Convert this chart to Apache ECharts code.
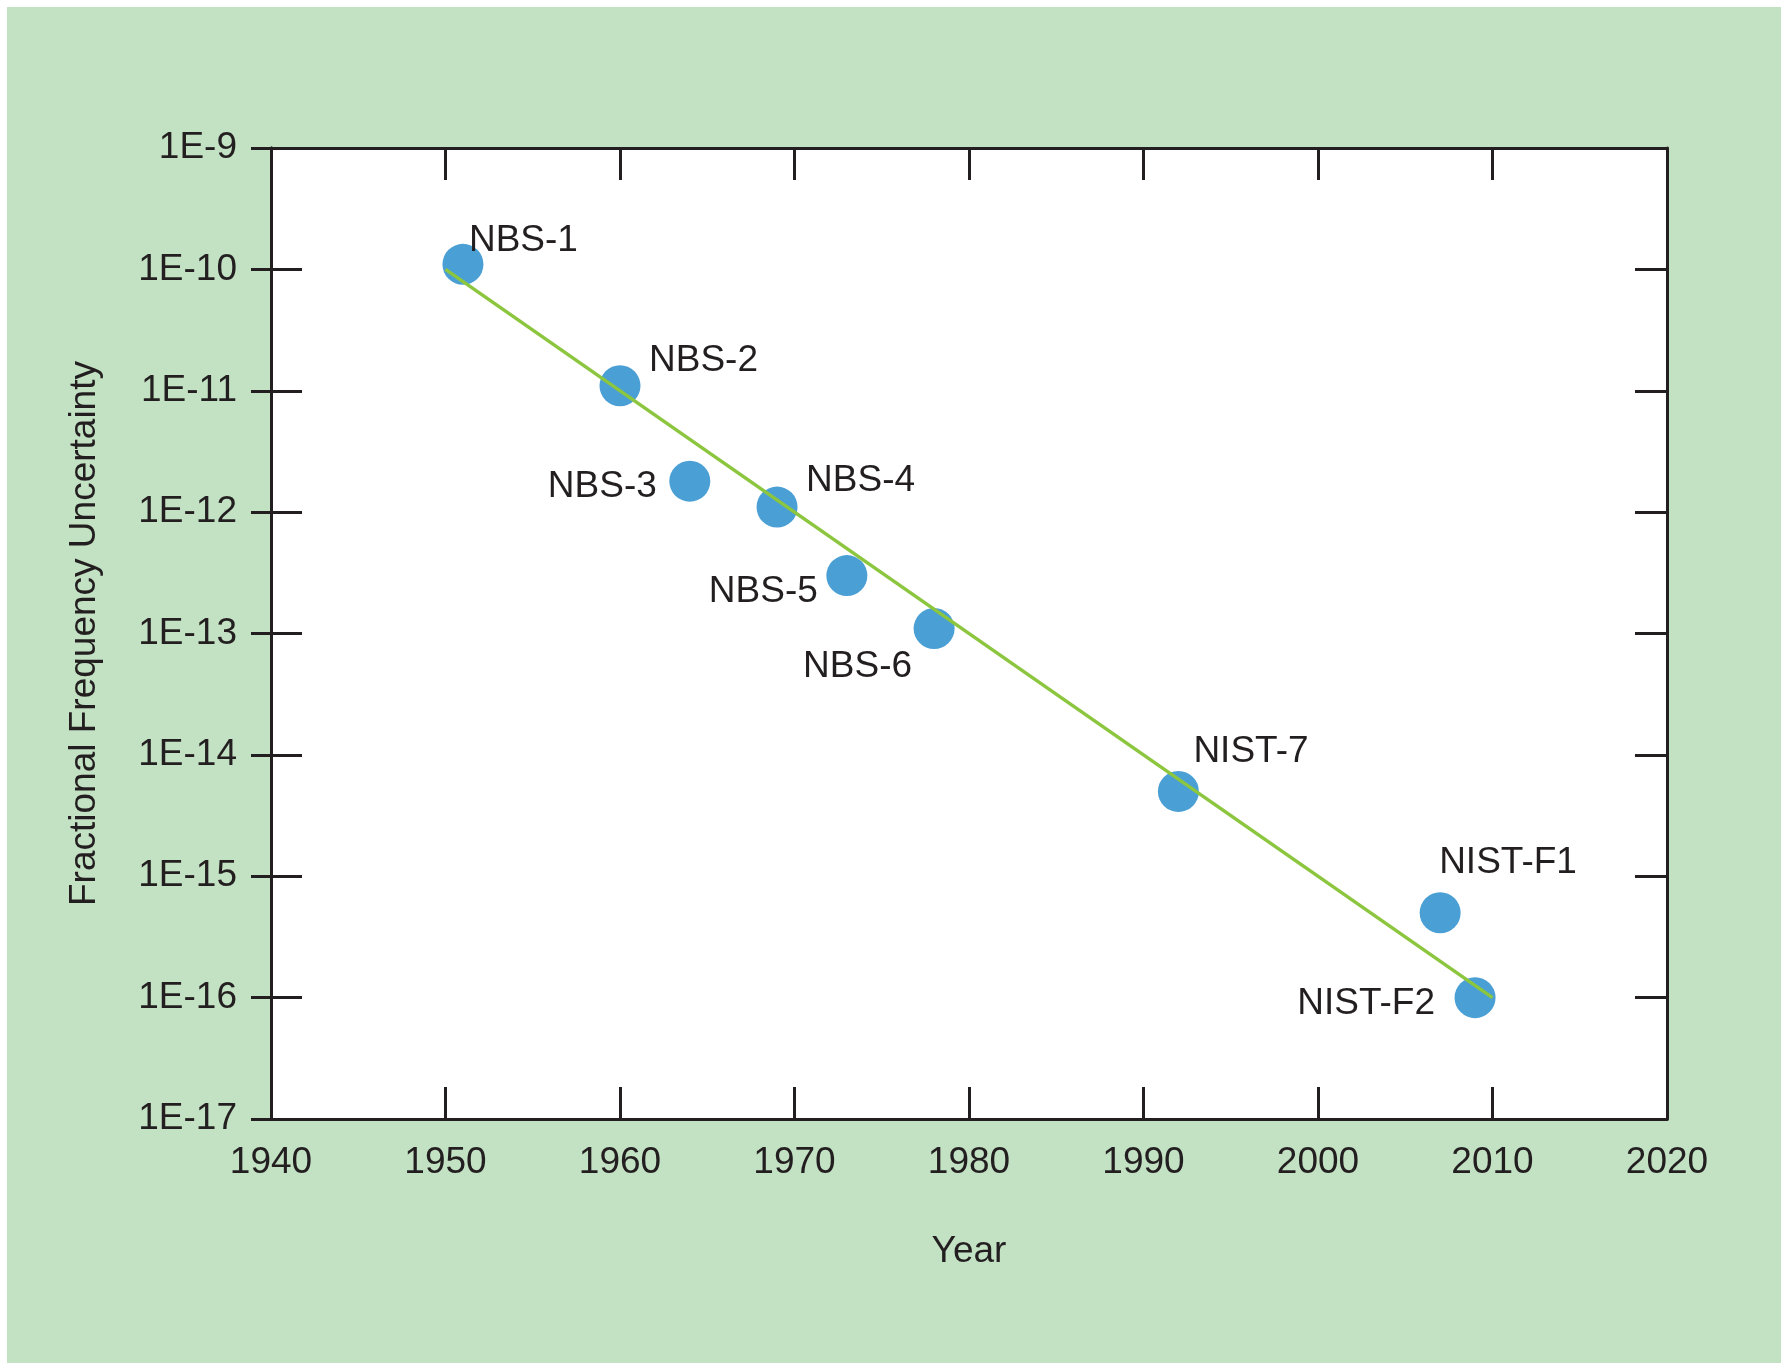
<!DOCTYPE html>
<html>
<head>
    <meta charset="utf-8" />
    <title>Fractional Frequency Uncertainty</title>
    <script src="https://cdn.jsdelivr.net/npm/echarts@6/dist/echarts.min.js"></script>
    <style>
        html, body { margin: 0; padding: 0; background: #fff; }
        #main { width: 1790px; height: 1370px; }
    </style>
</head>
<body>
    <div id="main"></div>
    <script type="text/javascript">
        // clock data
        var clockNames = ['NBS-1', 'NBS-2', 'NBS-3', 'NBS-4', 'NBS-5', 'NBS-6', 'NIST-7', 'NIST-F1', 'NIST-F2'];
        var clockYears = [1951, 1960, 1964, 1969, 1973, 1978, 1992, 2007, 2009];
        var clockUncert = [1.1e-10, 1.1e-11, 1.8e-12, 1.1e-12, 3.0e-13, 1.1e-13, 5.0e-15, 5.0e-16, 1.0e-16];
        // trend line end points
        var trendYears = [1950, 2010];
        var trendUncert = [1e-10, 1e-16];

        // label placement per clock [dx, dy, align]
        var labelPlace = {
            'NBS-1': [6, -24, 'left'],
            'NBS-2': [29, -25, 'left'],
            'NBS-3': [-33, 6, 'right'],
            'NBS-4': [29, -26, 'left'],
            'NBS-5': [-29, 16, 'right'],
            'NBS-6': [-22, 38, 'right'],
            'NIST-7': [15, -40, 'left'],
            'NIST-F1': [-1, -50, 'left'],
            'NIST-F2': [-40, 6, 'right']
        };

        var ink = '#231f20';
        var font = 'Liberation Sans, Arial, Helvetica, sans-serif';
        var fs = 37;
        var symSize = 41;

        var points = [];
        for (var i = 0; i < clockNames.length; i++) {
            var p = labelPlace[clockNames[i]];
            points.push({
                name: clockNames[i],
                value: [clockYears[i], clockUncert[i]],
                label: {
                    position: [symSize / 2 + p[0], symSize / 2 + p[1]],
                    align: p[2],
                    verticalAlign: 'middle'
                }
            });
        }
        var trend = [];
        for (var j = 0; j < trendYears.length; j++) {
            trend.push([trendYears[j], trendUncert[j]]);
        }

        function expLabel(v) {
            var e = Math.round(Math.log(v) / Math.LN10);
            return '1E' + e;
        }

        var axisLine = { show: true, lineStyle: { color: ink, width: 3 } };
        var tickIn = { show: true, inside: true, length: 32, lineStyle: { color: ink, width: 3 } };

        var myChart = echarts.init(document.getElementById('main'));
        var option = {
            backgroundColor: '#ffffff',
            animation: false,
            textStyle: { fontFamily: font, color: ink },
            graphic: [{
                type: 'rect',
                z: -10,
                silent: true,
                shape: { x: 7, y: 7, width: 1774, height: 1356 },
                style: { fill: '#c3e1c3' }
            }],
            grid: {
                left: 271, right: 123, top: 148, bottom: 251,
                show: true, backgroundColor: '#ffffff', borderWidth: 0
            },
            xAxis: [{
                type: 'value', position: 'bottom',
                min: 1940, max: 2020, interval: 10,
                name: 'Year', nameLocation: 'middle', nameGap: 114,
                nameTextStyle: { fontSize: fs, color: ink, fontFamily: font },
                axisLine: axisLine, axisTick: tickIn,
                axisLabel: { fontSize: fs, color: ink, margin: 25, fontFamily: font, formatter: function (v) { return String(v); } },
                splitLine: { show: false }
            }, {
                type: 'value', position: 'top',
                min: 1940, max: 2020, interval: 10,
                axisLine: axisLine, axisTick: tickIn,
                axisLabel: { show: false }, splitLine: { show: false }
            }],
            yAxis: [{
                type: 'log', logBase: 10, position: 'left',
                min: 1e-17, max: 1e-9,
                name: 'Fractional Frequency Uncertainty', nameLocation: 'middle', nameGap: 168,
                nameTextStyle: { fontSize: fs, color: ink, fontFamily: font },
                axisLine: axisLine,
                axisTick: { show: true, inside: false, length: 20, lineStyle: { color: ink, width: 3 } },
                axisLabel: { fontSize: fs, color: ink, margin: 34, fontFamily: font, formatter: expLabel },
                splitLine: { show: false }
            }, {
                type: 'log', logBase: 10, position: 'left',
                min: 1e-17, max: 1e-9,
                axisLine: axisLine, axisTick: { show: true, inside: true, length: 31, lineStyle: { color: ink, width: 3 } },
                axisLabel: { show: false }, splitLine: { show: false }
            }, {
                type: 'log', logBase: 10, position: 'right',
                min: 1e-17, max: 1e-9,
                axisLine: axisLine, axisTick: tickIn,
                axisLabel: { show: false }, splitLine: { show: false }
            }],
            series: [{
                type: 'line',
                data: trend,
                symbol: 'none',
                lineStyle: { color: '#8cc63f', width: 3.5 },
                z: 3
            }, {
                type: 'scatter',
                data: points,
                symbol: 'circle',
                symbolSize: symSize,
                itemStyle: { color: '#4a9fd5', opacity: 1 },
                label: {
                    show: true,
                    formatter: '{b}',
                    fontSize: fs,
                    color: ink,
                    fontFamily: font
                },
                z: 2
            }]
        };
        myChart.setOption(option);
    </script>
</body>
</html>
